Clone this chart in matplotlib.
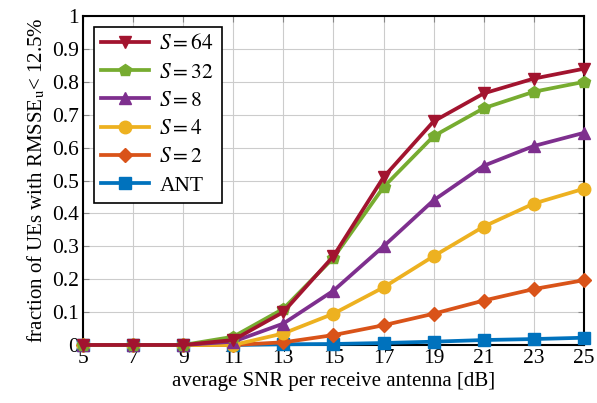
import matplotlib
matplotlib.use('Agg')
import matplotlib.pyplot as plt

plt.rcParams['font.family'] = ['Liberation Serif', 'DejaVu Serif']
plt.rcParams['mathtext.fontset'] = 'stix'

# SNR axis
snr = [5, 7, 9, 11, 13, 15, 17, 19, 21, 23, 25]

# fraction of UEs per series
s64 = [0, 0, 0, 0.015, 0.10, 0.27, 0.51, 0.68, 0.765, 0.81, 0.84]
s32 = [0, 0, 0, 0.025, 0.11, 0.265, 0.48, 0.635, 0.72, 0.77, 0.80]
s8 = [0, 0, 0, 0.01, 0.065, 0.165, 0.30, 0.44, 0.545, 0.605, 0.645]
s4 = [0, 0, 0, 0, 0.035, 0.095, 0.175, 0.27, 0.36, 0.43, 0.475]
s2 = [0, 0, 0, 0, 0.008, 0.03, 0.06, 0.095, 0.135, 0.17, 0.197]
ant = [0, 0, 0, 0, 0.002, 0.003, 0.006, 0.01, 0.015, 0.018, 0.022]

labels = ['$S=64$', '$S=32$', '$S=8$', '$S=4$', '$S=2$', 'ANT']
series = [s64, s32, s8, s4, s2, ant]
colors = ['#A2142F', '#77AC30', '#7E2F8E', '#EDB120', '#D95319', '#0072BD']
markers = ['v', 'p', '^', 'o', 'D', 's']
msizes = [9, 9, 9, 9, 7, 8]

fig = plt.figure(figsize=(5.97, 4.03), dpi=100)
ax = fig.add_axes([0.139, 0.144, 0.839, 0.816])

handles = []
for i in reversed(range(len(series))):
    h, = ax.plot(snr, series[i], color=colors[i], marker=markers[i],
                 markersize=msizes[i], linewidth=2.7, label=labels[i],
                 clip_on=False, zorder=3)
    handles.insert(0, h)

ax.set_xlim(5, 25)
ax.set_ylim(0, 1)
ax.set_xticks(snr)
ax.set_yticks([0, 0.1, 0.2, 0.3, 0.4, 0.5, 0.6, 0.7, 0.8, 0.9, 1])
ax.set_yticklabels(['0', '0.1', '0.2', '0.3', '0.4', '0.5', '0.6', '0.7', '0.8', '0.9', '1'])
ax.grid(True, color='#cccccc', linewidth=0.8)
ax.set_axisbelow(True)
ax.tick_params(direction='in', length=4, labelsize=15.5, top=True, right=True,
               color='#888888', pad=3)
for sp in ax.spines.values():
    sp.set_linewidth(1.5)

ax.set_xlabel('average SNR per receive antenna [dB]', fontsize=15, labelpad=3)
ax.set_ylabel('fraction of UEs with RMSSE$_\\mathrm{u}$< 12.5%', fontsize=15, labelpad=3)

leg = ax.legend(handles=handles, loc='upper left', fontsize=15.5, fancybox=False,
                edgecolor='black', framealpha=1, handlelength=2.2,
                borderaxespad=0.5, labelspacing=0.38, handletextpad=0.5,
                borderpad=0.35)
leg.get_frame().set_linewidth(1.2)

fig.savefig('out.png', dpi=100)
